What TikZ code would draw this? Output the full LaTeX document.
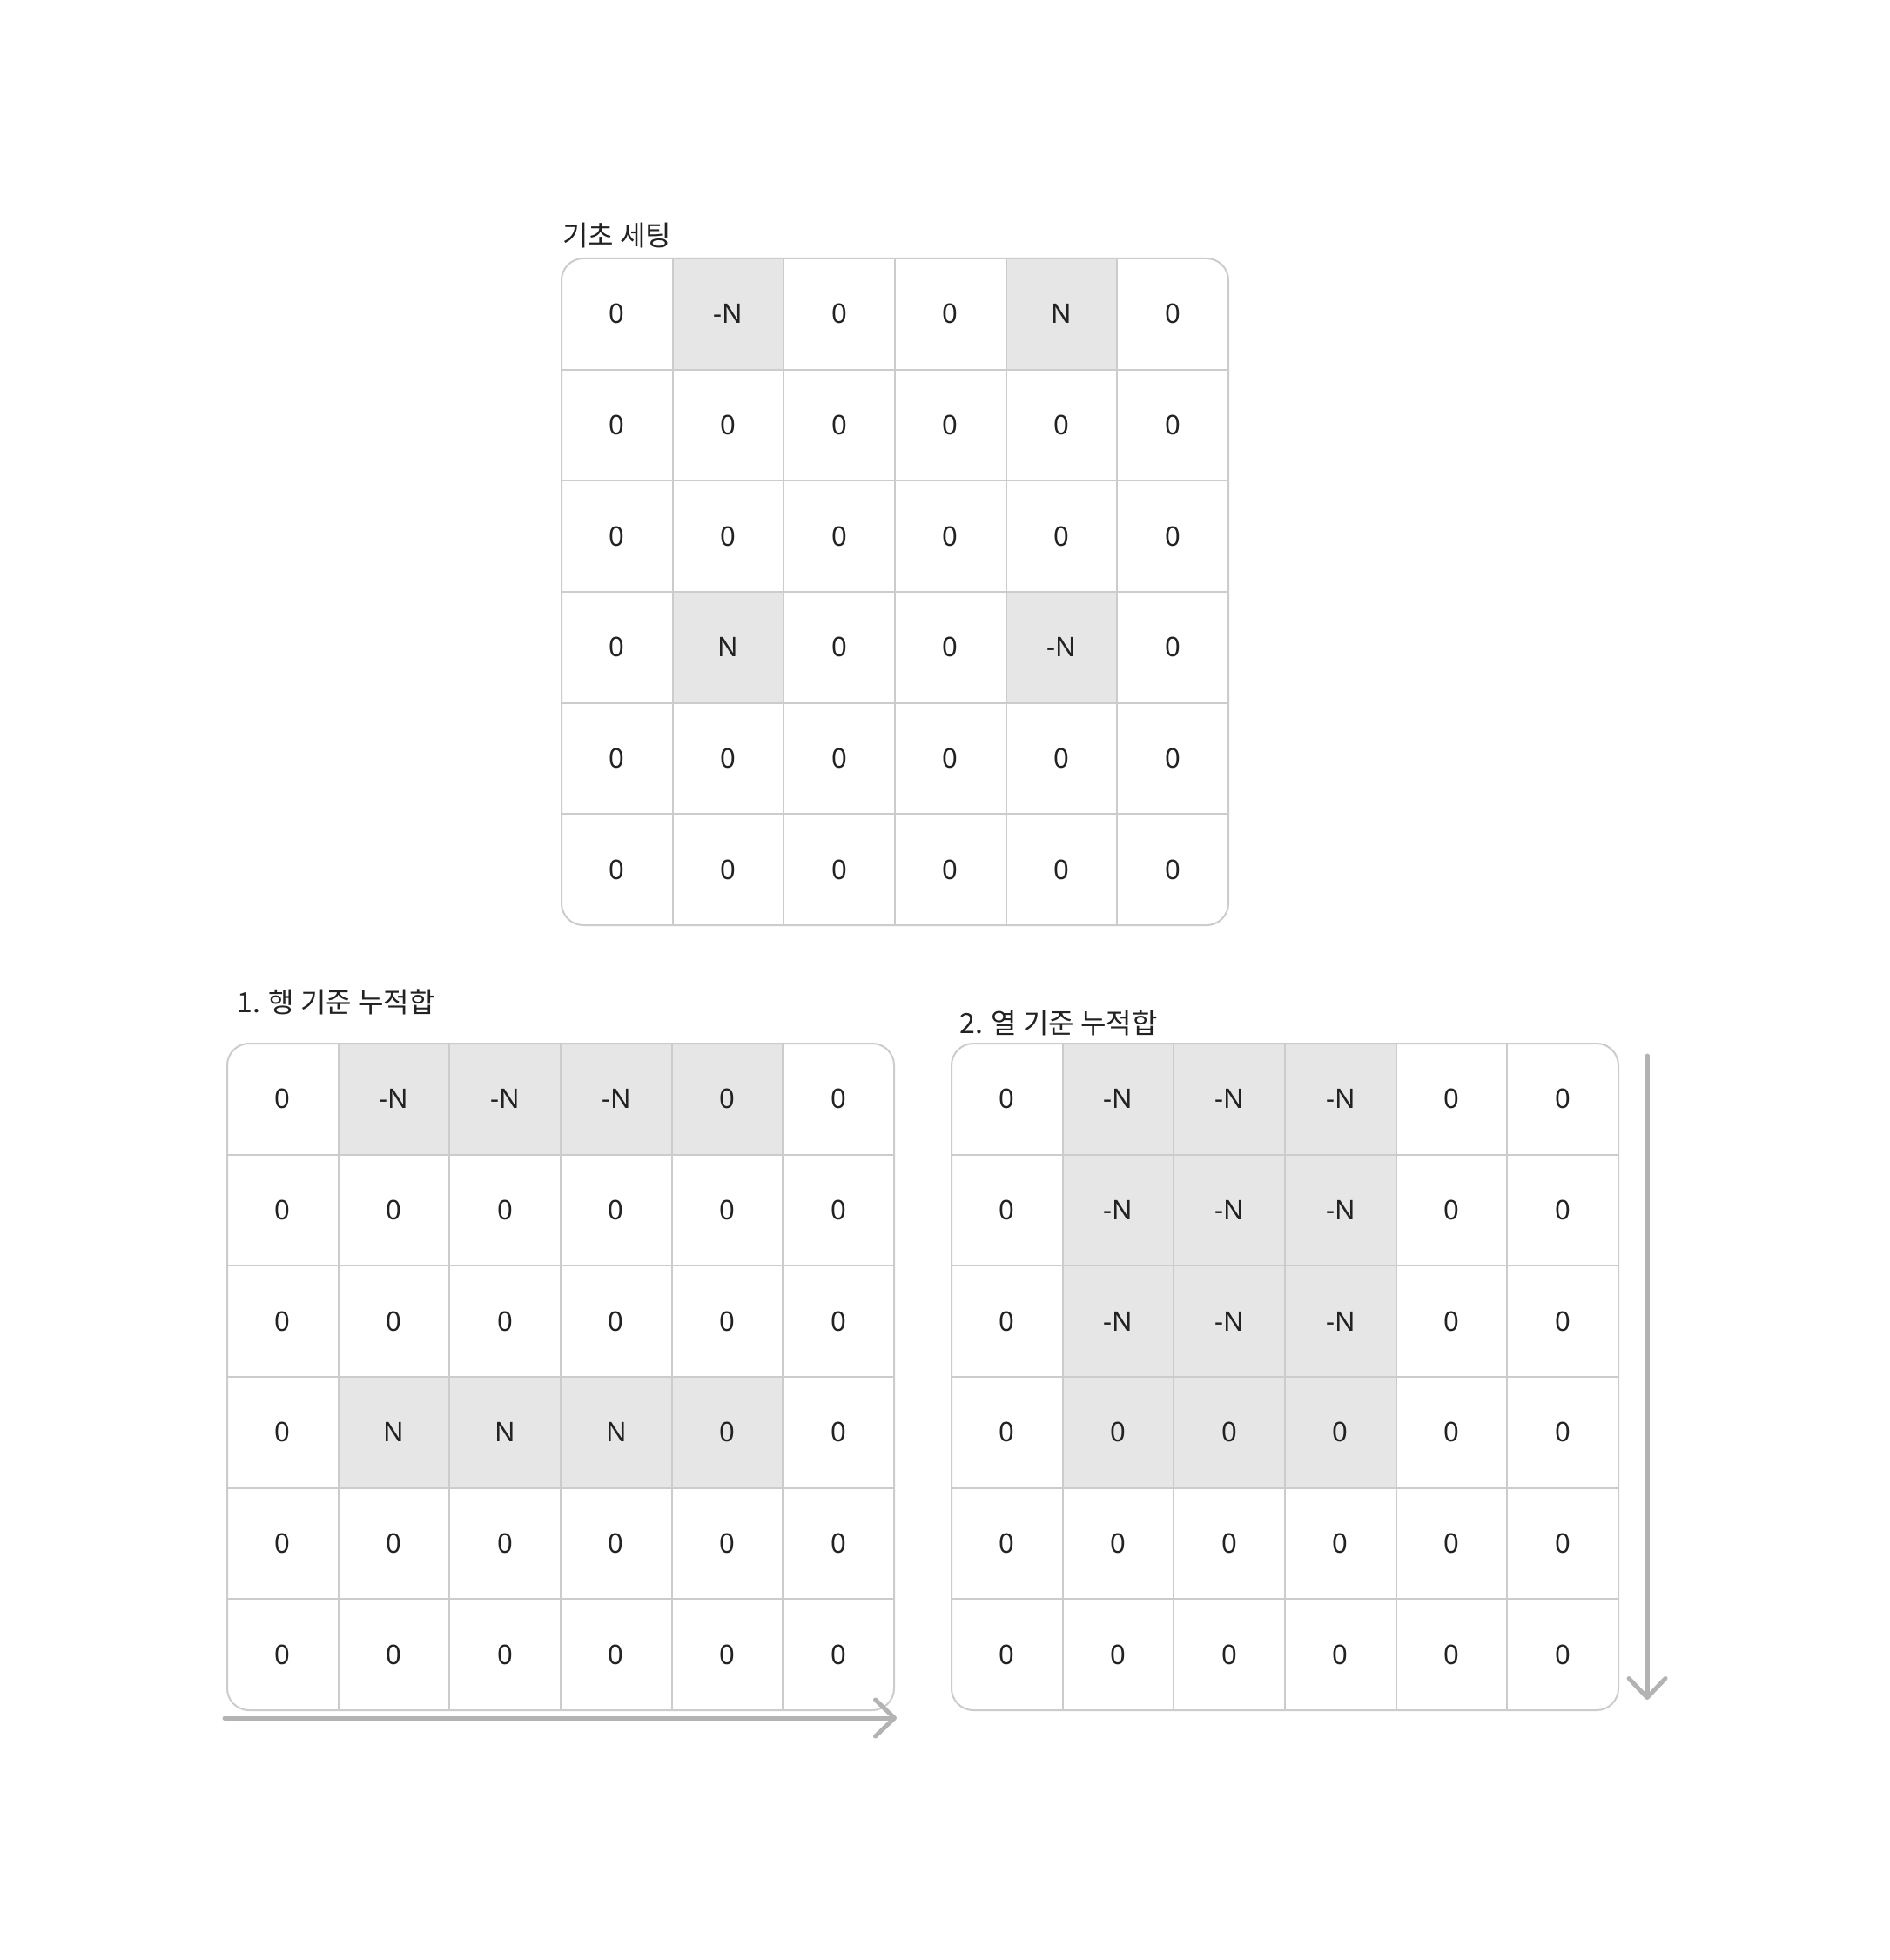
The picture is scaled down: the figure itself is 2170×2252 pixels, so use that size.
\documentclass[tikz,border=0pt]{standalone}
\usepackage{fontspec}
\setmainfont{Noto Sans CJK KR}
\newfontfamily\cellfont{Noto Sans}
\usetikzlibrary{arrows.meta}
\definecolor{g}{HTML}{E6E6E6}
\colorlet{w}{white}
\definecolor{gridline}{HTML}{CCCCCC}
\definecolor{ink}{HTML}{222222}
\definecolor{arrowgray}{HTML}{B3B3B3}
\newcommand\drawgrid[4]{%
  \begin{scope}
    \clip[rounded corners=12.5pt] (#2,#3) rectangle ++(766,766);
    \foreach \row [count=\r from 0] in {#4} {
      \foreach \f/\v [count=\c from 0] in \row {
        \node[cell, fill=\f] (#1-\r-\c) at ({#2+63.833+127.667*\c},{#3+63.833+127.667*\r}) {\v};
      }
    }
  \end{scope}
  \draw[frame] (#2,#3) rectangle ++(766,766);
}
\begin{document}
\begin{tikzpicture}[x=0.5pt,y=-0.5pt,
  cell/.style={rectangle, draw=gridline, line width=1pt, minimum width=63.833pt, minimum height=63.833pt, inner sep=0pt, outer sep=0pt, text=ink, font=\cellfont\fontsize{15.5}{18}\selectfont},
  frame/.style={draw=gridline, line width=1pt, rounded corners=12.5pt},
  title/.style={anchor=base west, inner sep=0pt, text=ink, font=\fontsize{16}{19}\selectfont},
  flow/.style={draw=arrowgray, line width=2.5pt, line cap=round, line join=round, -{Straight Barb[length=11pt,width=21pt,round]}}
]
\useasboundingbox[fill=white] (0,0) rectangle (2170,2252);

\drawgrid{a}{645}{297}{
  {w/0,g/-N,w/0,w/0,g/N,w/0},
  {w/0,w/0,w/0,w/0,w/0,w/0},
  {w/0,w/0,w/0,w/0,w/0,w/0},
  {w/0,g/N,w/0,w/0,g/-N,w/0},
  {w/0,w/0,w/0,w/0,w/0,w/0},
  {w/0,w/0,w/0,w/0,w/0,w/0}}

\drawgrid{b}{261}{1199}{
  {w/0,g/-N,g/-N,g/-N,g/0,w/0},
  {w/0,w/0,w/0,w/0,w/0,w/0},
  {w/0,w/0,w/0,w/0,w/0,w/0},
  {w/0,g/N,g/N,g/N,g/0,w/0},
  {w/0,w/0,w/0,w/0,w/0,w/0},
  {w/0,w/0,w/0,w/0,w/0,w/0}}

\drawgrid{c}{1093}{1199}{
  {w/0,g/-N,g/-N,g/-N,w/0,w/0},
  {w/0,g/-N,g/-N,g/-N,w/0,w/0},
  {w/0,g/-N,g/-N,g/-N,w/0,w/0},
  {w/0,g/0,g/0,g/0,w/0,w/0},
  {w/0,w/0,w/0,w/0,w/0,w/0},
  {w/0,w/0,w/0,w/0,w/0,w/0}}

\node[title] (t1) at (646,283) {기초 세팅};
\node[title] (t2) at (272,1163) {1. 행 기준 누적합};
\node[title] (t3) at (1102,1187) {2. 열 기준 누적합};

\coordinate (h1) at (258,1974);
\coordinate (h2) at (1030,1974);
\draw[flow] (h1) -- (h2);
\coordinate (v1) at (1892,1213);
\coordinate (v2) at (1892,1953);
\draw[flow] (v1) -- (v2);
\end{tikzpicture}
\end{document}
